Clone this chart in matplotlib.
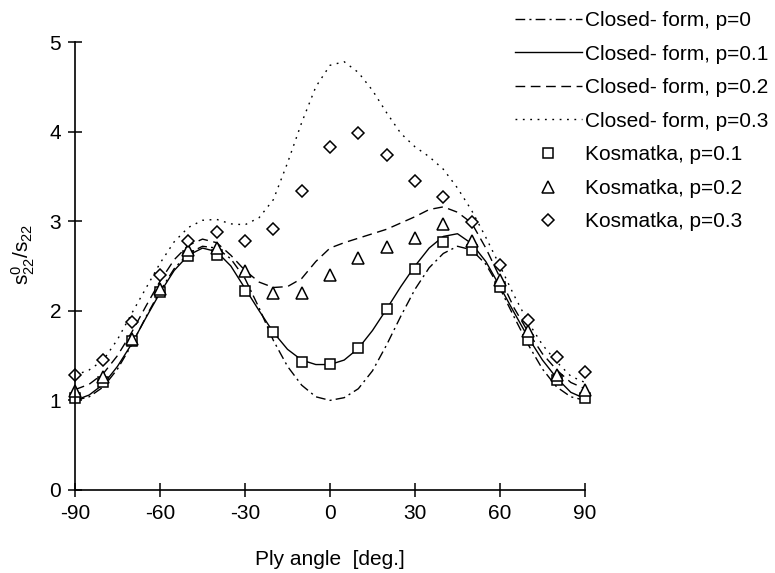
import numpy as np
import matplotlib
matplotlib.use("Agg")
from matplotlib import pyplot as plt

plt.rcParams['font.family'] = ['Liberation Sans', 'DejaVu Sans']
plt.rcParams['mathtext.fontset'] = 'custom'
plt.rcParams['mathtext.rm'] = 'Liberation Sans'
plt.rcParams['axes.unicode_minus'] = False

# closed-form curves, read every 5 degrees
ang_c = np.arange(-90, 91, 5)
cf_p0 = [1.00, 1.04, 1.15, 1.35, 1.62, 1.93, 2.22, 2.47, 2.64, 2.72, 2.70, 2.58, 2.36,
         2.03, 1.67, 1.38, 1.17, 1.04, 1.00, 1.03, 1.13, 1.33, 1.62, 1.94, 2.24, 2.48,
         2.64, 2.72, 2.68, 2.52, 2.25, 1.93, 1.62, 1.35, 1.15, 1.04, 1.00]
cf_p1 = [1.00, 1.06, 1.18, 1.38, 1.63, 1.92, 2.20, 2.45, 2.62, 2.70, 2.66, 2.50, 2.25,
         2.00, 1.76, 1.57, 1.45, 1.40, 1.40, 1.45, 1.58, 1.78, 2.02, 2.27, 2.50, 2.70,
         2.83, 2.86, 2.75, 2.55, 2.27, 1.98, 1.70, 1.45, 1.25, 1.09, 1.02]
cf_p2 = [1.12, 1.18, 1.30, 1.50, 1.76, 2.05, 2.33, 2.57, 2.73, 2.80, 2.76, 2.62, 2.45,
         2.32, 2.26, 2.27, 2.36, 2.55, 2.70, 2.76, 2.81, 2.86, 2.91, 2.98, 3.05, 3.13,
         3.16, 3.10, 2.98, 2.70, 2.37, 2.03, 1.76, 1.52, 1.34, 1.20, 1.13]
cf_p3 = [1.28, 1.34, 1.45, 1.68, 1.97, 2.25, 2.53, 2.77, 2.93, 3.01, 3.02, 2.97, 2.96,
         3.04, 3.24, 3.65, 4.10, 4.50, 4.74, 4.78, 4.66, 4.46, 4.21, 3.98, 3.83, 3.72,
         3.58, 3.37, 3.12, 2.82, 2.50, 2.17, 1.87, 1.62, 1.43, 1.27, 1.20]

# Kosmatka points, every 10 degrees
ang_k = np.arange(-90, 91, 10)
kos_p1 = [1.03, 1.21, 1.66, 2.21, 2.61, 2.62, 2.22, 1.76, 1.43, 1.41,
          1.59, 2.02, 2.47, 2.77, 2.68, 2.26, 1.67, 1.23, 1.03]
kos_p2 = [1.11, 1.26, 1.69, 2.24, 2.68, 2.70, 2.44, 2.20, 2.20, 2.40,
          2.59, 2.71, 2.81, 2.97, 2.78, 2.34, 1.77, 1.28, 1.12]
kos_p3 = [1.28, 1.45, 1.88, 2.40, 2.78, 2.88, 2.78, 2.91, 3.34, 3.83,
          3.98, 3.74, 3.45, 3.27, 2.99, 2.51, 1.90, 1.48, 1.32]

fig = plt.figure(figsize=(7.75, 5.73), dpi=100)
ax = fig.add_axes([0.0968, 0.1449, 0.658, 0.7818])

lw = 1.0
ax.plot(ang_c, cf_p0, color='k', lw=lw, dashes=(7, 3, 1.5, 3), clip_on=False,
        label='Closed- form, p=0')
ax.plot(ang_c, cf_p1, color='k', lw=lw, ls='-', clip_on=False,
        label='Closed- form, p=0.1')
ax.plot(ang_c, cf_p2, color='k', lw=lw, dashes=(7, 4), clip_on=False,
        label='Closed- form, p=0.2')
ax.plot(ang_c, cf_p3, color='k', lw=lw, dashes=(1.3, 4), clip_on=False,
        label='Closed- form, p=0.3')

mk = dict(ls='none', mfc='white', mec='k', mew=1.1, clip_on=False)
ax.plot(ang_k, kos_p1, marker='s', ms=7.5, label='Kosmatka, p=0.1', **mk)
ax.plot(ang_k, kos_p2, marker='^', ms=8, label='Kosmatka, p=0.2', **mk)
ax.plot(ang_k, kos_p3, marker='D', ms=6, label='Kosmatka, p=0.3', **mk)

ax.set_xlim(-90, 90)
ax.set_ylim(0, 5)
ax.set_xticks(np.arange(-90, 91, 30))
ax.set_yticks(np.arange(0, 6, 1))
for s in ['top', 'right']:
    ax.spines[s].set_visible(False)
for s in ['left', 'bottom']:
    ax.spines[s].set_linewidth(1.2)
ax.tick_params(direction='inout', length=10, width=1.1, labelsize=15, pad=5)

ax.set_xlabel('Ply angle  [deg.]', fontsize=15)
ax.xaxis.set_label_coords(0.5, -0.135)
ax.set_ylabel(r'$\mathregular{s^0_{22}/s_{22}}$', fontsize=15)
ax.yaxis.set_label_coords(-0.075, 0.525)

ax.legend(loc='upper left', bbox_to_anchor=(515 / 775, 1 - 11 / 573),
          bbox_transform=fig.transFigure, frameon=False, fontsize=15,
          handlelength=3.2, handletextpad=0.15, labelspacing=0.7,
          borderpad=0, borderaxespad=0)

plt.savefig('out.png', dpi=100)
